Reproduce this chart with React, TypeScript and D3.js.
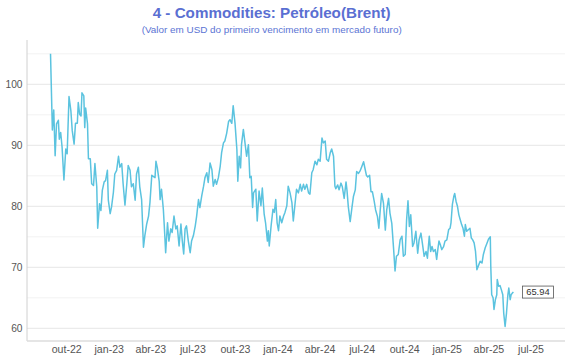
import React from "react";
import * as d3 from "d3";

const titleText = "4 - Commodities: Petróleo(Brent)";
const subtitleText = "(Valor em USD do primeiro vencimento em mercado futuro)";

const dates: string[] = [
  "2022-08-27","2022-08-31","2022-09-03","2022-09-06","2022-09-09","2022-09-13","2022-09-15","2022-09-18","2022-09-21","2022-09-25",
  "2022-09-29","2022-10-02","2022-10-06","2022-10-10","2022-10-13","2022-10-17","2022-10-20","2022-10-24","2022-10-26","2022-10-29",
  "2022-11-01","2022-11-03","2022-11-07","2022-11-09","2022-11-11","2022-11-15","2022-11-17","2022-11-21","2022-11-24","2022-11-28",
  "2022-12-01","2022-12-05","2022-12-07","2022-12-11","2022-12-14","2022-12-17","2022-12-21","2022-12-24","2022-12-28","2022-12-30",
  "2023-01-03","2023-01-06","2023-01-10","2023-01-13","2023-01-17","2023-01-21","2023-01-24","2023-01-28","2023-01-31","2023-02-04",
  "2023-02-08","2023-02-11","2023-02-15","2023-02-18","2023-02-22","2023-02-26","2023-03-01","2023-03-05","2023-03-08","2023-03-12",
  "2023-03-16","2023-03-19","2023-03-23","2023-03-27","2023-03-30","2023-04-03","2023-04-06","2023-04-10","2023-04-12","2023-04-15",
  "2023-04-19","2023-04-21","2023-04-24","2023-04-28","2023-04-30","2023-05-03","2023-05-07","2023-05-10","2023-05-14","2023-05-17",
  "2023-05-21","2023-05-25","2023-05-28","2023-06-01","2023-06-05","2023-06-08","2023-06-11","2023-06-14","2023-06-17","2023-06-21",
  "2023-06-25","2023-06-28","2023-07-02","2023-07-06","2023-07-09","2023-07-13","2023-07-16","2023-07-20","2023-07-24","2023-07-27",
  "2023-07-31","2023-08-03","2023-08-07","2023-08-11","2023-08-14","2023-08-18","2023-08-21","2023-08-25","2023-08-29","2023-09-01",
  "2023-09-05","2023-09-08","2023-09-12","2023-09-16","2023-09-19","2023-09-23","2023-09-26","2023-09-30","2023-10-04","2023-10-06",
  "2023-10-09","2023-10-12","2023-10-14","2023-10-18","2023-10-22","2023-10-25","2023-10-29","2023-11-01","2023-11-04","2023-11-07",
  "2023-11-09","2023-11-14","2023-11-17","2023-11-21","2023-11-25","2023-11-28","2023-12-02","2023-12-05","2023-12-09","2023-12-11",
  "2023-12-13","2023-12-17","2023-12-21","2023-12-24","2023-12-27","2023-12-30","2024-01-02","2024-01-05","2024-01-09","2024-01-13",
  "2024-01-16","2024-01-20","2024-01-23","2024-01-27","2024-01-31","2024-02-03","2024-02-07","2024-02-10","2024-02-14","2024-02-18",
  "2024-02-21","2024-02-25","2024-02-28","2024-03-03","2024-03-07","2024-03-10","2024-03-14","2024-03-17","2024-03-21","2024-03-25",
  "2024-03-28","2024-04-01","2024-04-05","2024-04-08","2024-04-12","2024-04-15","2024-04-19","2024-04-23","2024-04-26","2024-04-30",
  "2024-05-03","2024-05-05","2024-05-09","2024-05-12","2024-05-16","2024-05-19","2024-05-23","2024-05-27","2024-05-29","2024-06-01",
  "2024-06-05","2024-06-09","2024-06-12","2024-06-16","2024-06-19","2024-06-23","2024-06-27","2024-06-30","2024-07-04","2024-07-07",
  "2024-07-10","2024-07-13","2024-07-17","2024-07-20","2024-07-23","2024-07-27","2024-07-30","2024-08-03","2024-08-06","2024-08-09",
  "2024-08-12","2024-08-16","2024-08-20","2024-08-23","2024-08-27","2024-08-30","2024-09-03","2024-09-07","2024-09-10","2024-09-13",
  "2024-09-17","2024-09-21","2024-09-25","2024-09-28","2024-10-02","2024-10-05","2024-10-08","2024-10-11","2024-10-14","2024-10-18",
  "2024-10-21","2024-10-25","2024-10-29","2024-11-01","2024-11-05","2024-11-08","2024-11-12","2024-11-16","2024-11-19","2024-11-23",
  "2024-11-26","2024-11-29","2024-12-02","2024-12-06","2024-12-09","2024-12-12","2024-12-14","2024-12-17","2024-12-20","2024-12-24",
  "2024-12-27","2024-12-31","2025-01-04","2025-01-07","2025-01-09","2025-01-12","2025-01-15","2025-01-17","2025-01-20","2025-01-23",
  "2025-01-26","2025-01-29","2025-02-01","2025-02-04","2025-02-07","2025-02-09","2025-02-12","2025-02-16","2025-02-19","2025-02-22",
  "2025-02-25","2025-02-28","2025-03-03","2025-03-06","2025-03-10","2025-03-13","2025-03-17","2025-03-20","2025-03-24","2025-03-28",
  "2025-03-31","2025-04-04","2025-04-05","2025-04-07","2025-04-10","2025-04-12","2025-04-15","2025-04-18","2025-04-19","2025-04-22",
  "2025-04-25","2025-04-28","2025-05-01","2025-05-03","2025-05-06","2025-05-09","2025-05-12","2025-05-14","2025-05-17","2025-05-19",
  "2025-05-22","2025-05-24"
];

const prices: number[] = [
  105.0,92.5,95.8,88.3,93.5,94.1,91.0,92.1,89.7,84.3,
  89.4,88.6,98.0,95.7,92.4,90.2,93.6,93.6,97.0,95.1,
  94.8,98.6,98.1,92.9,96.1,93.5,87.8,87.8,83.7,83.4,
  87.0,83.2,76.4,80.4,79.3,82.6,84.0,84.2,85.9,81.0,
  78.8,79.9,82.3,85.3,85.9,88.2,86.4,87.0,83.7,80.2,
  83.7,86.7,85.9,83.2,83.7,81.0,85.3,86.4,83.2,81.1,
  73.3,75.2,77.1,78.4,80.6,85.1,84.9,84.7,87.4,86.3,
  84.1,81.1,82.8,79.5,76.8,72.4,77.3,74.3,76.3,75.7,
  78.4,76.3,76.8,73.5,77.1,74.3,72.2,76.3,76.8,74.3,
  72.4,74.3,75.2,76.8,78.4,81.1,79.8,81.7,83.3,84.7,
  85.5,83.9,87.1,86.0,83.3,84.4,83.6,84.7,86.6,88.8,
  90.4,90.7,92.0,93.9,94.2,93.6,96.5,93.6,89.3,84.1,
  88.2,86.3,90.1,92.6,90.1,88.2,90.1,84.7,84.9,79.8,
  82.2,82.8,77.6,82.5,80.1,83.0,78.7,77.3,74.3,76.0,
  73.5,76.8,79.5,79.0,81.1,77.3,76.0,78.4,77.3,78.4,
  79.0,80.1,83.3,82.2,80.6,77.6,80.6,82.8,82.2,83.6,
  82.5,83.6,82.8,83.6,82.2,82.0,85.5,86.0,87.4,86.8,
  87.7,87.4,91.2,90.4,90.7,87.7,87.4,88.8,89.4,88.2,
  83.3,82.9,83.5,82.7,83.8,83.2,81.3,84.0,82.7,79.9,
  77.5,79.9,81.6,82.7,85.7,85.4,85.9,86.5,87.3,86.2,
  85.1,84.8,85.1,82.4,82.4,80.8,79.4,78.3,76.4,79.4,
  82.1,80.5,76.1,79.4,81.3,78.9,77.2,72.9,69.4,71.8,
  72.1,74.5,75.1,71.8,72.1,77.8,80.9,76.7,78.6,73.4,
  74.0,75.9,72.3,74.5,75.6,74.0,71.8,72.6,71.5,75.1,
  72.6,73.4,72.6,72.9,71.3,73.2,74.3,73.7,72.9,73.4,
  74.3,74.5,76.2,76.4,77.3,80.3,81.6,82.1,80.8,80.0,
  78.6,77.8,77.0,76.4,75.1,77.0,75.9,76.2,76.4,74.8,
  74.5,74.0,72.6,69.6,70.4,71.0,70.7,72.1,73.2,74.0,
  74.6,75.0,70.2,65.5,65.0,63.1,64.7,65.5,68.0,66.9,
  67.0,66.3,65.5,62.5,60.3,62.5,65.5,66.6,64.7,65.5,
  65.8,65.94
];

const tickDates: string[] = [
  "2022-10-01","2023-01-01","2023-04-01","2023-07-01","2023-10-01","2024-01-01",
  "2024-04-01","2024-07-01","2024-10-01","2025-01-01","2025-04-01","2025-07-01"
];
const tickLabels: string[] = [
  "out-22","jan-23","abr-23","jul-23","out-23","jan-24",
  "abr-24","jul-24","out-24","jan-25","abr-25","jul-25"
];
const yTicks: number[] = [60, 70, 80, 90, 100];
const yGrid: number[] = [60, 65, 70, 75, 80, 85, 90, 95, 100, 105];

const W = 570;
const H = 360;
const plotLeft = 27;
const plotRight = 565;
const plotTop = 40;
const plotBottom = 341;
const font = "'Liberation Sans', Arial, Helvetica, sans-serif";

export default function App() {
  const parse = d3.timeParse("%Y-%m-%d");
  const data = dates.map((d, i) => ({ date: parse(d) as Date, value: prices[i] }));

  const x = d3
    .scaleTime()
    .domain([parse("2022-10-01") as Date, parse("2025-07-01") as Date])
    .range([66.7, 531]);
  const y = d3.scaleLinear().domain([60, 100]).range([328.3, 84.3]);

  const line = d3
    .line<{ date: Date; value: number }>()
    .x((d) => x(d.date))
    .y((d) => y(d.value));

  const last = data[data.length - 1];
  const lx = x(last.date) + 9;
  const ly = y(last.value);

  return (
    <svg
      width={W}
      height={H}
      style={{ position: "absolute", left: 0, top: 0, display: "block", background: "#fff" }}
      fontFamily={font}
    >
      <text x={271.7} y={17.5} textAnchor="middle" fontSize={15.2} fontWeight="bold" fill="#5a6fd2">
        {titleText}
      </text>
      <text x={271.7} y={32.8} textAnchor="middle" fontSize={9.9} fill="#5b74d4">
        {subtitleText}
      </text>

      {yGrid.map((v) => (
        <line
          key={"g" + v}
          x1={plotLeft}
          x2={plotRight}
          y1={y(v)}
          y2={y(v)}
          stroke={v % 10 === 0 ? "#e6e6e6" : "#f2f2f2"}
          strokeWidth={1}
        />
      ))}

      <line x1={plotLeft} x2={plotLeft} y1={plotTop} y2={plotBottom} stroke="#d0d0d0" strokeWidth={1} />
      <line x1={plotLeft} x2={plotRight} y1={plotBottom} y2={plotBottom} stroke="#dcdcdc" strokeWidth={1.6} />

      {yTicks.map((v) => (
        <text key={"y" + v} x={22.5} y={y(v)} dy="0.35em" textAnchor="end" fontSize={10.2} fill="#555">
          {v}
        </text>
      ))}

      {tickDates.map((d, i) => (
        <text
          key={"x" + d}
          x={x(parse(d) as Date)}
          y={353.3}
          textAnchor="middle"
          fontSize={10.6}
          fill="#555"
        >
          {tickLabels[i]}
        </text>
      ))}

      <path d={line(data) || ""} fill="none" stroke="#5bc3df" strokeWidth={1.5} strokeLinejoin="round" />

      <rect x={lx} y={ly - 6} width={31} height={12} fill="#fff" stroke="#555" strokeWidth={0.8} />
      <text x={lx + 15.5} y={ly} dy="0.35em" textAnchor="middle" fontSize={9.4} fill="#333">
        {last.value.toFixed(2)}
      </text>
    </svg>
  );
}
